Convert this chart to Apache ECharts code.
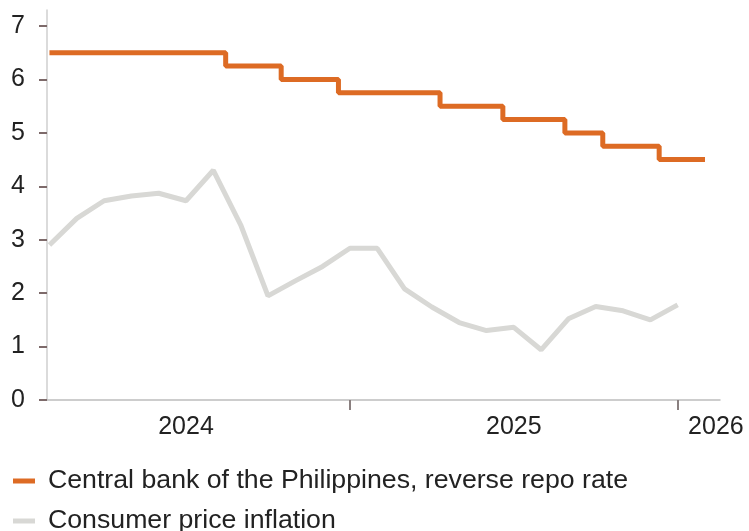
<!DOCTYPE html>
<html>
<head>
<meta charset="utf-8">
<script src="https://cdn.jsdelivr.net/npm/echarts@6/dist/echarts.min.js"></script>
<style>
  html, body { margin: 0; padding: 0; background: #fff; }
  #chart { width: 749px; height: 531px; }
</style>
</head>
<body>
<div id="chart"></div>
<script>
// policy rate: date the rate took effect, and the rate
const rateDates = ['2024-02-01', '2024-08-15', '2024-10-16', '2024-12-19', '2025-04-10',
                   '2025-06-19', '2025-08-28', '2025-10-09', '2025-12-11', '2026-02-01'];
const rateValues = [6.5, 6.25, 6.0, 5.75, 5.5, 5.25, 5.0, 4.75, 4.5, 4.5];

// monthly CPI inflation, Jan 2024 .. Dec 2025
const cpiMonths = ['2024-01', '2024-02', '2024-03', '2024-04', '2024-05', '2024-06',
                   '2024-07', '2024-08', '2024-09', '2024-10', '2024-11', '2024-12',
                   '2025-01', '2025-02', '2025-03', '2025-04', '2025-05', '2025-06',
                   '2025-07', '2025-08', '2025-09', '2025-10', '2025-11', '2025-12'];
const cpiValues = [2.9, 3.4, 3.73, 3.82, 3.87, 3.73, 4.3, 3.28, 1.95, 2.23, 2.5, 2.84,
                   2.84, 2.08, 1.74, 1.45, 1.3, 1.36, 0.94, 1.52, 1.75, 1.67, 1.5, 1.78];

const yearTicks = [12, 24];
const yearLabelPos = [6, 18, 25.4];
const yTicks = [0, 1, 2, 3, 4, 5, 6, 7];

const seriesNames = ['Central bank of the Philippines, reverse repo rate', 'Consumer price inflation'];

// months since 1 Jan 2024
const toMonth = s => {
    const [y, m, d] = s.split('-').map(Number);
    const days = new Date(y, m, 0).getDate();
    return (y - 2024) * 12 + (m - 1) + (d - 1) / days;
};

const rateData = rateDates.map((d, i) => [toMonth(d), rateValues[i]]);
// monthly figure plotted at the end of its month
const cpiData = cpiMonths.map((m, i) => [toMonth(m + '-01') + 1, cpiValues[i]]);

const font = "'Liberation Sans', Arial, sans-serif";
const myChart = echarts.init(document.getElementById('chart'));

const legendBase = {
    left: 8,
    itemWidth: 22,
    itemHeight: 5,
    icon: 'rect',
    textStyle: { fontFamily: font, fontSize: 26.7, color: '#222', lineHeight: 28, padding: [0, 0, 0, 8] }
};

const option = {
    animation: false,
    backgroundColor: '#fff',
    grid: { left: 47, right: 29, top: 10, bottom: 131 },
    legend: [
        { ...legendBase, top: 462, data: [seriesNames[0]] },
        { ...legendBase, top: 502, data: [seriesNames[1]] }
    ],
    xAxis: {
        type: 'value',
        min: 0.91,
        max: 25.55,
        splitLine: { show: false },
        axisLine: { lineStyle: { color: '#bdbdbd', width: 1.5 } },
        axisTick: { customValues: yearTicks, length: 10, lineStyle: { color: '#8a8080', width: 2 } },
        axisLabel: {
            customValues: yearLabelPos,
            formatter: v => String(2024 + Math.floor(v / 12)),
            margin: 15,
            fontFamily: font, fontSize: 25, color: '#222'
        }
    },
    yAxis: {
        type: 'value',
        min: 0,
        max: 7.3,
        splitLine: { show: false },
        axisLine: { show: true, lineStyle: { color: '#cfcfcf', width: 1.5 } },
        axisTick: { show: true, customValues: yTicks, length: 8, lineStyle: { color: '#7d6a6a', width: 2 } },
        axisLabel: {
            customValues: yTicks,
            margin: 22,
            fontFamily: font, fontSize: 25, color: '#222'
        }
    },
    series: [
        {
            name: seriesNames[0],
            type: 'line',
            step: 'end',
            data: rateData,
            showSymbol: false,
            color: '#dd6b24',
            lineStyle: { width: 5, color: '#dd6b24' },
            z: 3
        },
        {
            name: seriesNames[1],
            type: 'line',
            data: cpiData,
            showSymbol: false,
            color: '#d8d8d5',
            lineStyle: { width: 5, color: '#d8d8d5' },
            z: 2
        }
    ]
};

myChart.setOption(option);
</script>
</body>
</html>
